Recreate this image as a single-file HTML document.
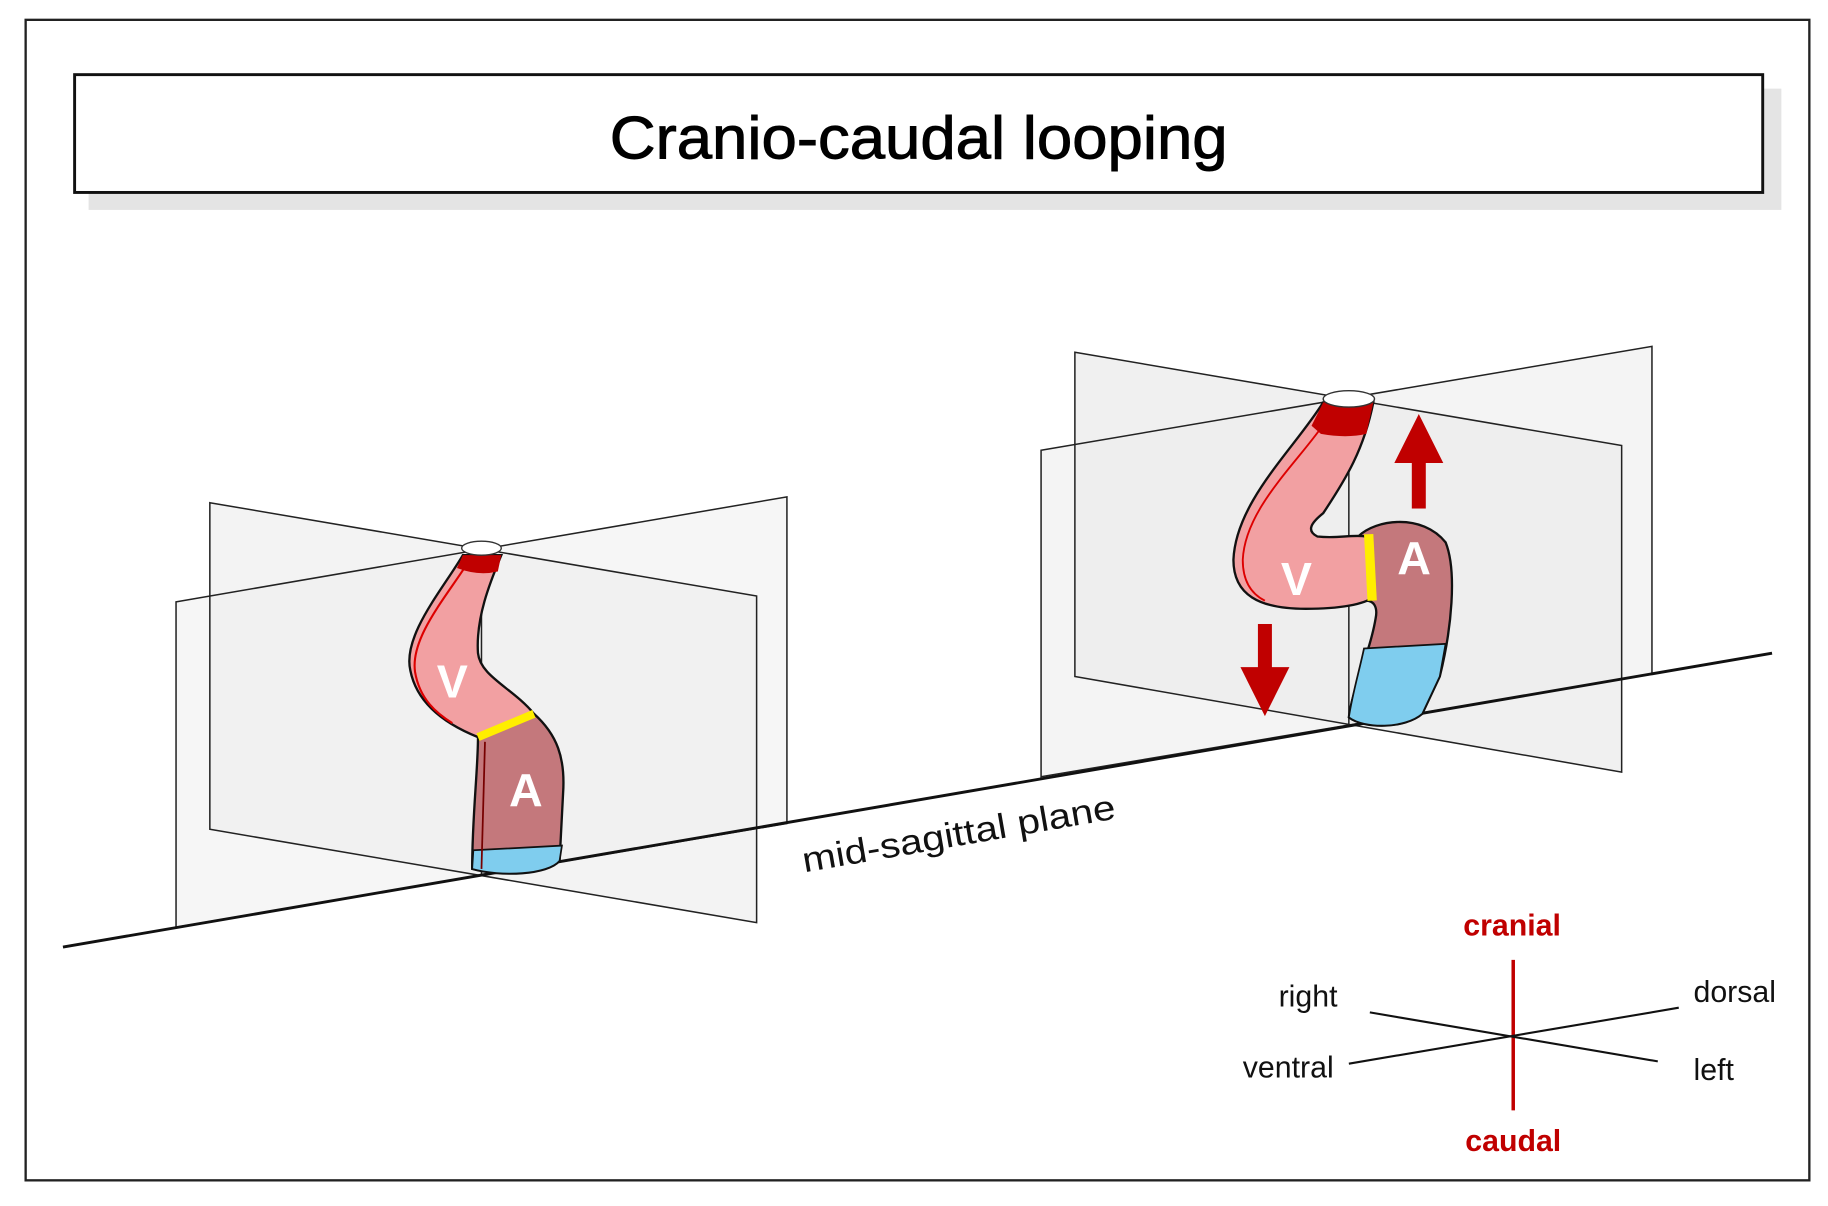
<!DOCTYPE html>
<html><head><meta charset="utf-8"><style>
html,body{margin:0;padding:0;background:#fff}
svg{display:block}
text{font-family:"Liberation Sans",Arial,sans-serif}
</style></head><body>
<svg width="1828" height="1206" viewBox="0 0 1568 1034" preserveAspectRatio="none" xmlns="http://www.w3.org/2000/svg">
<rect x="0" y="0" width="1568" height="1034" fill="#fff"/>
<rect x="22" y="17" width="1530" height="995" fill="none" stroke="#222" stroke-width="2"/>
<rect x="76" y="76" width="1452" height="104" fill="#e4e4e4"/>
<rect x="64" y="64" width="1448" height="101" fill="#fff" stroke="#111" stroke-width="2.5"/>
<text x="788" y="136" font-size="52" text-anchor="middle" fill="#000" stroke="#000" stroke-width="0.8" textLength="530" lengthAdjust="spacingAndGlyphs">Cranio-caudal looping</text>

<!-- left planes -->
<polygon points="180,431 649,511 649,791 180,711" fill="#f0f0f0" fill-opacity="0.8"/>
<polygon points="151,516 675,426 675,706 151,795" fill="#f0f0f0" fill-opacity="0.6"/>
<g fill="none" stroke="#222" stroke-width="1.3">
<polygon points="180,431 649,511 649,791 180,711"/>
<polygon points="151,516 675,426 675,706 151,795"/>
<line x1="413" y1="470" x2="413" y2="750"/>
</g>
<!-- right planes -->
<polygon points="922,302 1391,382 1391,662 922,580" fill="#ececec" fill-opacity="0.8"/>
<polygon points="893,386 1417,297 1417,578 893,666" fill="#ececec" fill-opacity="0.6"/>
<g fill="none" stroke="#222" stroke-width="1.3">
<polygon points="922,302 1391,382 1391,662 922,580"/>
<polygon points="893,386 1417,297 1417,578 893,666"/>
<line x1="1157" y1="342" x2="1157" y2="622"/>
</g>
<!-- baseline -->
<line x1="54" y1="812" x2="1520" y2="560" stroke="#111" stroke-width="2.5"/>

<!-- left heart -->
<path d="M410,632 L458,612 C478,630 485,650 483,680 L480,738 C470,750 430,752 405,745 C405,700 410,660 410,632 Z" fill="#c4787c" stroke="#111" stroke-width="2"/>
<path d="M406,729 L482,725 L480,738 C470,750 430,752 405,745 Z" fill="#7fcdee" stroke="#111" stroke-width="1.5"/>
<line x1="416" y1="636" x2="413" y2="745" stroke="#700" stroke-width="1.5"/>
<path d="M397,476 C380,505 345,545 352,575 C358,605 385,622 410,632 L458,612 C440,590 412,580 410,560 C408,530 420,500 430,476 Z" fill="#f2a0a2" stroke="#111" stroke-width="2"/>
<path d="M399,486 C380,515 352,548 356,576 C360,600 375,612 388,620" fill="none" stroke="#d00" stroke-width="1.8"/>
<line x1="410" y1="632" x2="458" y2="612" stroke="#ffee00" stroke-width="7"/>
<path d="M397,476 L430,476 L427,490 Q410,494 392,487 Z" fill="#c00000"/>
<ellipse cx="413" cy="470" rx="17" ry="6" fill="#fff" stroke="#333" stroke-width="1.2"/>
<text x="388" y="598" font-size="40" font-weight="bold" fill="#fff" text-anchor="middle">V</text>
<text x="451" y="691" font-size="40" font-weight="bold" fill="#fff" text-anchor="middle">A</text>

<!-- right heart -->
<path d="M1165,460 C1180,445 1220,440 1240,465 C1250,490 1245,540 1235,580 L1220,612 C1205,625 1170,625 1157,615 C1160,590 1175,560 1180,530 C1182,520 1178,515 1172,515 Z" fill="#c4787c" stroke="#111" stroke-width="2"/>
<path d="M1170,556 L1240,552 L1235,580 L1220,612 C1205,625 1170,625 1157,615 C1160,595 1166,575 1170,556 Z" fill="#7fcdee" stroke="#111" stroke-width="1.5"/>
<path d="M1135,345 C1110,385 1060,430 1058,480 C1058,510 1080,522 1120,522 C1150,522 1170,518 1178,512 L1172,460 C1160,458 1148,462 1130,460 C1120,455 1125,448 1135,440 C1155,410 1170,385 1178,345 Z" fill="#f2a0a2" stroke="#111" stroke-width="2"/>
<path d="M1138,360 C1115,395 1068,435 1066,480 C1066,500 1075,510 1085,515" fill="none" stroke="#d00" stroke-width="1.6"/>
<line x1="1174" y1="458" x2="1177" y2="515" stroke="#ffee00" stroke-width="8"/>
<path d="M1135,345 L1178,345 L1172,372 Q1155,376 1133,372 L1125,365 Z" fill="#c00000"/>
<ellipse cx="1157" cy="342" rx="22" ry="7" fill="#fff" stroke="#333" stroke-width="1.2"/>
<text x="1112" y="510" font-size="40" font-weight="bold" fill="#fff" text-anchor="middle">V</text>
<text x="1213" y="492" font-size="40" font-weight="bold" fill="#fff" text-anchor="middle">A</text>
<!-- arrows -->
<rect x="1211" y="392" width="12" height="44" fill="#c00000"/>
<polygon points="1217,355 1238,397 1196,397" fill="#c00000"/>
<rect x="1079" y="535" width="12" height="42" fill="#c00000"/>
<polygon points="1085,614 1106,572 1064,572" fill="#c00000"/>

<text x="690" y="748" font-size="30" fill="#111" transform="rotate(-9.8 690 748)" textLength="272" lengthAdjust="spacingAndGlyphs">mid-sagittal plane</text>

<!-- orientation legend -->
<line x1="1298" y1="823" x2="1298" y2="952" stroke="#c00000" stroke-width="3"/>
<line x1="1175" y1="868" x2="1422" y2="910" stroke="#111" stroke-width="1.8"/>
<line x1="1157" y1="912" x2="1440" y2="864" stroke="#111" stroke-width="1.8"/>
<text x="1297" y="802" font-size="26" font-weight="bold" fill="#c00000" text-anchor="middle">cranial</text>
<text x="1298" y="987" font-size="26" font-weight="bold" fill="#c00000" text-anchor="middle">caudal</text>
<text x="1122" y="863" font-size="26" fill="#111" text-anchor="middle">right</text>
<text x="1488" y="859" font-size="26" fill="#111" text-anchor="middle">dorsal</text>
<text x="1105" y="924" font-size="26" fill="#111" text-anchor="middle">ventral</text>
<text x="1470" y="926" font-size="26" fill="#111" text-anchor="middle">left</text>
</svg>
</body></html>
